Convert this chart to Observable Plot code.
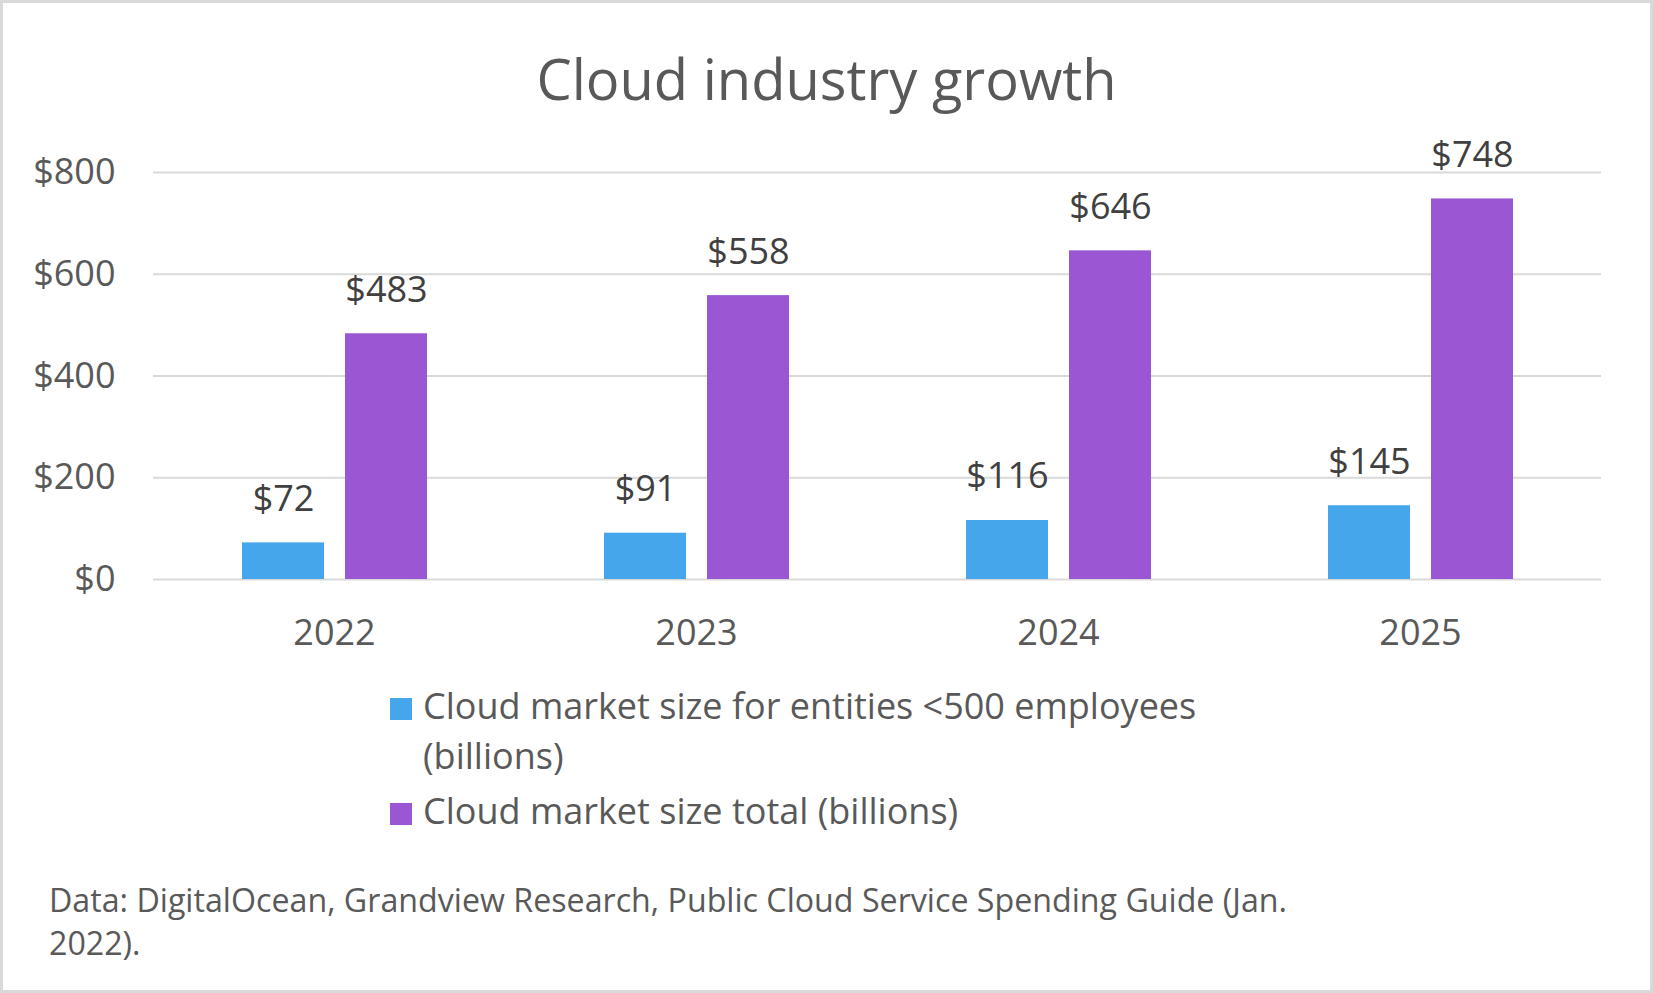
<!DOCTYPE html>
<html>
<head>
<meta charset="utf-8">
<script src="https://cdn.jsdelivr.net/npm/d3@7"></script>
<script src="https://cdn.jsdelivr.net/npm/@observablehq/plot@0.6"></script>
<style>
  html, body { margin: 0; padding: 0; background: #fff; }
  #page { position: relative; width: 1653px; height: 993px; overflow: hidden; font-family: "Open Sans", sans-serif; color: #595959; }
  #frame { position: absolute; left: 0; top: 0; width: 1653px; height: 993px; box-sizing: border-box; border: 3px solid #d9d9d9; }
  #title { position: absolute; left: 0; width: 1653px; top: 48px; text-align: center; font-size: 56px; line-height: 60px; color: #595959; white-space: nowrap; }
  #chart { position: absolute; left: 0; top: 0; }
  .legend-item { position: absolute; left: 390px; font-size: 36px; line-height: 50px; color: #595959; white-space: nowrap; }
  .legend-item .sw { position: absolute; left: 0; width: 22px; height: 22px; }
  .legend-item .lab { position: absolute; left: 33px; top: 0; }
  #caption { position: absolute; left: 49px; top: 878px; font-size: 32.2px; line-height: 43px; color: #595959; white-space: nowrap; }
</style>
</head>
<body>
<div id="page">
  <div id="frame"></div>
  <div id="title"></div>
  <div id="chart"></div>
  <div id="legend"></div>
  <div id="caption"></div>
</div>
<script>
// ---- data ----
const titleText = "Cloud industry growth";
const years = ["2022", "2023", "2024", "2025"];
const seriesNames = [
  "Cloud market size for entities <500 employees (billions)",
  "Cloud market size total (billions)"
];
const legendLines = [
  ["Cloud market size for entities <500 employees", "(billions)"],
  ["Cloud market size total (billions)"]
];
const smallEntityValues = [72, 91, 116, 145];
const totalValues = [483, 558, 646, 748];
const yTicks = [0, 200, 400, 600, 800];
const seriesColors = ["#46A6EC", "#9B57D3"];
const captionLines = [
  "Data: DigitalOcean, Grandview Research, Public Cloud Service Spending Guide (Jan.",
  "2022)."
];

// ---- table ----
const rows = [];
years.forEach((yr, i) => {
  rows.push({ year: yr, series: seriesNames[0], value: smallEntityValues[i] });
  rows.push({ year: yr, series: seriesNames[1], value: totalValues[i] });
});

document.getElementById("title").textContent = titleText;

const chart = Plot.plot({
  width: 1653,
  height: 700,
  marginTop: 172,
  marginBottom: 121,
  marginLeft: 152,
  marginRight: 52,
  style: { fontFamily: "Open Sans, sans-serif", fontSize: "36px", color: "#595959", background: "transparent", overflow: "visible" },
  fx: { domain: years, padding: 0, axis: "bottom", tickSize: 0, tickPadding: 40, label: null },
  x: { domain: seriesNames, paddingInner: 0.204, paddingOuter: 0.859, axis: null },
  y: { domain: [0, 800], ticks: yTicks, tickSize: 0, tickPadding: 38, tickFormat: d => "$" + d, label: null },
  color: { domain: seriesNames, range: seriesColors },
  marks: [
    Plot.ruleY(yTicks, { stroke: "#d9d9d9", strokeWidth: 2 }),
    Plot.barY(rows, { fx: "year", x: "series", y: "value", fill: "series" }),
    Plot.text(rows, { fx: "year", x: "series", y: "value", text: d => "$" + d.value, lineAnchor: "bottom", dy: -32, fontSize: 36, fill: "#404040" })
  ]
});
document.getElementById("chart").appendChild(chart);

// ---- legend ----
const legend = document.getElementById("legend");
const legendTops = [681, 786];
legendLines.forEach((lines, i) => {
  const item = document.createElement("div");
  item.className = "legend-item";
  item.style.top = legendTops[i] + "px";
  const sw = document.createElement("div");
  sw.className = "sw";
  sw.style.background = seriesColors[i];
  sw.style.top = "17px";
  item.appendChild(sw);
  const lab = document.createElement("div");
  lab.className = "lab";
  lines.forEach((t, j) => {
    if (j > 0) lab.appendChild(document.createElement("br"));
    lab.appendChild(document.createTextNode(t));
  });
  item.appendChild(lab);
  legend.appendChild(item);
});

// ---- caption ----
const cap = document.getElementById("caption");
captionLines.forEach((t, j) => {
  if (j > 0) cap.appendChild(document.createElement("br"));
  cap.appendChild(document.createTextNode(t));
});
</script>
</body>
</html>
